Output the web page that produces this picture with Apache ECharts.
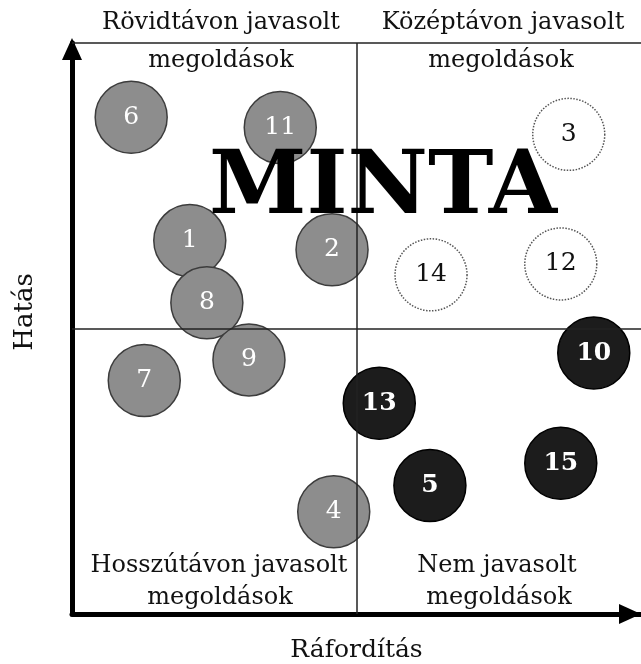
<!DOCTYPE html>
<html>
<head>
<meta charset="utf-8">
<script src="https://cdn.jsdelivr.net/npm/echarts@6/dist/echarts.min.js"></script>
<style>
  html, body { margin: 0; padding: 0; background: #fff; }
  #chart { width: 641px; height: 664px; }
</style>
</head>
<body>
<div id="chart"></div>
<script>
// megoldások sorszáma, ráfordítás (x), hatás (y), csoport
var ids     = ['6', '11', '3', '1', '2', '14', '12', '8', '10', '9', '7', '13', '15', '5', '4'];
var effort  = [10.4, 36.6, 87.3, 20.7, 45.7, 63.1, 85.9, 23.7, 91.7, 31.1, 12.7, 54.0, 85.9, 62.9, 46.0];
var impact  = [87.0, 85.2, 84.0, 65.4, 63.8, 59.4, 61.3, 54.5, 45.7, 44.5, 40.9, 36.9, 26.4, 22.5, 17.9];
var group   = ['g', 'g', 'w', 'g', 'g', 'w', 'w', 'g', 'b', 'g', 'g', 'b', 'b', 'b', 'g'];

var quadTop = ['Rövidtávon javasolt', 'Középtávon javasolt'];
var quadBottom = ['Hosszútávon javasolt', 'Nem javasolt'];
var quadSub = 'megoldások';

function pick(g) {
    var out = [];
    for (var i = 0; i < ids.length; i++) {
        if (group[i] === g) out.push({ name: ids[i], value: [effort[i], impact[i]] });
    }
    return out;
}

var serif = 'DejaVu Serif';

function label(text, x, y, size, extra) {
    var st = { text: text, fontFamily: serif, fontSize: size, fill: '#111', align: 'center', verticalAlign: 'middle' };
    var el = { type: 'text', z: 10, x: x, y: y, style: st };
    if (extra) for (var k in extra) el[k] = extra[k];
    return el;
}

try {
    var myChart = echarts.init(document.getElementById('chart'));
    var bubble = function (data, fill, border, borderType, txt, weight) {
        return {
            type: 'scatter',
            z: 3,
            symbolSize: 72,
            data: data,
            itemStyle: { color: fill, borderColor: border, borderWidth: 1.5, borderType: borderType, opacity: 1 },
            label: {
                show: true, position: 'inside', formatter: '{b}',
                color: txt, fontFamily: serif, fontSize: 25, fontWeight: weight
            },
            emphasis: { disabled: true }
        };
    };
    myChart.setOption({
        animation: false,
        backgroundColor: '#fff',
        grid: { left: 72, right: 0, top: 43, bottom: 50, containLabel: false, outerBoundsMode: 'none' },
        xAxis: {
            type: 'value', min: 0, max: 100,
            name: 'Ráfordítás', nameLocation: 'middle', nameGap: 24,
            nameTextStyle: { fontFamily: serif, fontSize: 25, color: '#111' },
            axisLine: {
                show: true, symbol: ['none', 'triangle'], symbolSize: [20, 22], symbolOffset: [0, -11],
                lineStyle: { color: '#000', width: 5 }
            },
            axisTick: { show: false }, axisLabel: { show: false }, splitLine: { show: false }
        },
        yAxis: {
            type: 'value', min: 0, max: 100,
            axisLine: {
                show: true, symbol: ['none', 'triangle'], symbolSize: [20, 22], symbolOffset: [0, -6],
                lineStyle: { color: '#000', width: 5 }
            },
            axisTick: { show: false }, axisLabel: { show: false }, splitLine: { show: false }
        },
        series: [
            {
                type: 'scatter', z: 1, data: [], silent: true,
                markLine: {
                    silent: true, symbol: 'none', label: { show: false },
                    lineStyle: { color: '#222', width: 1.5, type: 'solid' },
                    data: [{ xAxis: 50 }, { yAxis: 50 }, { yAxis: 100 }]
                }
            },
            bubble(pick('g'), '#8d8d8d', '#3c3c3c', 'solid', '#fff', 'normal'),
            bubble(pick('w'), '#ffffff', '#555', 'dotted', '#111', 'normal'),
            bubble(pick('b'), '#1c1c1c', '#000', 'solid', '#fff', 'bold')
        ],
        graphic: [
            label(quadTop[0], 221, 23, 24),
            label(quadSub, 221, 61, 24),
            label(quadTop[1], 503, 23, 24),
            label(quadSub, 501, 61, 24),
            label(quadBottom[0], 219, 566, 24),
            label(quadSub, 220, 598, 24),
            label(quadBottom[1], 497, 566, 24),
            label(quadSub, 499, 598, 24),
            label('Hatás', 25, 312, 26, { rotation: Math.PI / 2 }),
            { type: 'text', z: 100, x: 383, y: 190, style: { text: 'MINTA', fontFamily: serif, fontWeight: 'bold', fontSize: 88, fill: '#000', align: 'center', verticalAlign: 'middle' } }
        ]
    });
} catch (e) { console.log(e); }
</script>
</body>
</html>
